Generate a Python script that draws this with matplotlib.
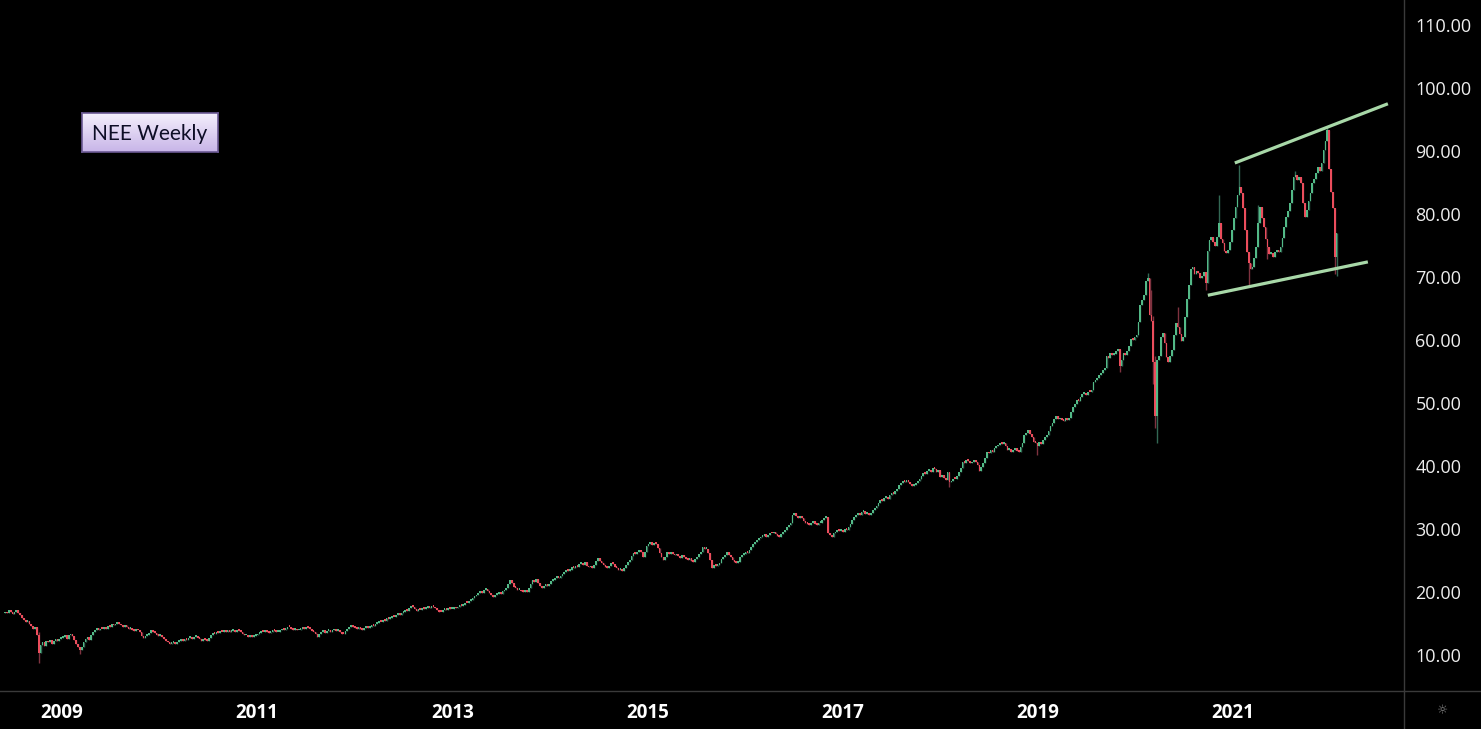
import matplotlib
matplotlib.use("Agg")
import matplotlib.pyplot as plt
import matplotlib.dates as mdates
from matplotlib.colors import LinearSegmentedColormap
from matplotlib.lines import Line2D
import numpy as np
import pandas as pd

# NEE weekly candles (split-adjusted prices)
first_week = '2008-06-02'
first_open = 16.6

# weekly closes, chunked roughly by calendar year
closes_2008 = [16.9, 16.6, 17.1, 16.8, 16.5, 16.9, 17.2, 16.7, 16.3, 15.9,
               15.6, 15.3, 15.4, 14.9, 14.6, 14.1, 14.4, 13.2, 10.4, 11.6,
               12.1, 11.5, 12.3, 12.0, 12.4, 11.8, 12.2, 12.6, 12.3, 12.5,
               12.7]
closes_2009 = [12.9, 13.2, 12.6, 13.1, 13.4, 13.0, 12.4, 11.8, 11.2, 10.8,
               11.3, 12.1, 12.5, 12.9, 12.4, 13.1, 13.7, 14.0, 14.3, 13.9,
               14.2, 14.1, 14.5, 14.2, 14.6, 14.4, 14.9, 14.7, 15.0, 15.3,
               14.9, 14.7, 14.5, 14.8, 14.4, 14.1, 14.3, 14.0, 13.8, 14.0,
               13.9, 13.6, 13.0, 12.7, 13.0, 13.2, 13.5, 13.9, 13.7, 13.5,
               13.2, 13.0]
closes_2010 = [13.1, 12.8, 12.5, 12.3, 12.0, 11.8, 11.9, 12.0, 11.8, 12.1,
               12.2, 12.4, 12.2, 12.5, 12.4, 12.7, 12.9, 12.6, 12.8, 13.0,
               12.7, 12.5, 12.3, 12.6, 12.4, 12.2, 12.7, 13.2, 13.4, 13.3,
               13.6, 13.5, 13.7, 13.6, 13.8, 13.6, 13.9, 13.7, 13.8, 14.0,
               13.7, 13.9, 13.8, 13.6, 13.3, 13.1, 13.2, 12.9, 13.1, 12.9,
               13.0, 13.1]
closes_2011 = [13.3, 13.5, 13.7, 13.6, 13.8, 13.7, 13.5, 13.6, 13.9, 13.8,
               13.6, 13.7, 13.9, 14.1, 14.0, 14.2, 14.5, 14.4, 14.2, 14.0,
               14.1, 13.9, 14.0, 14.2, 14.3, 14.2, 14.4, 14.3, 14.1, 13.8,
               13.7, 13.3, 12.8, 13.3, 13.6, 13.9, 13.5, 13.8, 14.0, 13.7,
               13.9, 14.1, 13.8, 14.0, 13.6, 13.4, 13.3, 13.8, 14.2, 14.4,
               14.6, 14.5]
closes_2012 = [14.3, 14.1, 14.4, 14.2, 14.0, 14.3, 14.5, 14.3, 14.4, 14.7,
               14.6, 14.9, 15.1, 15.3, 15.2, 15.5, 15.4, 15.8, 15.7, 15.9,
               16.1, 16.0, 16.3, 16.5, 16.4, 16.7, 16.9, 17.1, 17.0, 17.4,
               17.8, 17.6, 17.3, 17.0, 17.2, 17.1, 17.4, 17.3, 17.5, 17.7,
               17.5, 17.8, 17.6, 17.4, 17.1, 16.9, 16.8, 17.1, 17.3, 17.2,
               17.4, 17.3]
closes_2013 = [17.3, 17.6, 17.4, 17.7, 17.9, 17.8, 18.0, 18.3, 18.2, 18.6,
               18.8, 19.0, 19.3, 19.5, 19.8, 20.1, 19.9, 20.3, 20.5, 20.2,
               19.8, 19.5, 19.2, 19.5, 19.7, 19.9, 19.7, 20.1, 20.4, 20.6,
               21.3, 21.9, 21.5, 20.8, 20.6, 20.3, 20.4, 20.1, 20.0, 20.2,
               20.0, 20.6, 21.2, 21.9, 21.6, 22.0, 21.4, 20.9, 20.7, 20.9,
               21.2, 21.0]
closes_2014 = [21.3, 21.7, 21.9, 22.2, 22.4, 22.3, 22.6, 22.9, 23.2, 23.5,
               23.3, 23.5, 23.9, 23.8, 24.1, 24.0, 24.4, 24.6, 24.3, 24.8,
               24.2, 23.9, 24.0, 23.8, 24.3, 24.9, 25.4, 25.0, 24.6, 24.3,
               24.0, 23.8, 24.2, 24.6, 24.4, 24.0, 23.8, 23.5, 23.6, 23.4,
               23.8, 24.3, 24.8, 25.1, 25.7, 26.2, 26.0, 26.3, 26.6, 26.4,
               25.5, 26.4]
closes_2015 = [27.3, 27.6, 27.9, 27.5, 27.8, 27.6, 27.0, 26.2, 25.6, 25.1,
               25.6, 26.4, 26.1, 26.4, 26.0, 25.8, 26.1, 25.7, 25.4, 25.8,
               25.6, 25.3, 25.1, 25.4, 25.0, 24.8, 25.2, 25.6, 26.0, 26.3,
               27.1, 26.8, 26.9, 26.2, 25.1, 23.8, 24.3, 24.1, 24.3, 24.6,
               25.2, 25.6, 25.9, 26.3, 25.8, 25.5, 25.1, 24.8, 24.6, 24.7,
               25.6, 25.9]
closes_2016 = [26.1, 26.4, 26.2, 26.6, 27.1, 27.6, 27.9, 28.2, 28.5, 28.7,
               28.9, 29.2, 28.8, 29.1, 29.4, 29.3, 29.6, 29.2, 28.9, 28.7,
               29.2, 29.6, 29.9, 30.3, 30.6, 31.0, 32.3, 32.5, 32.1, 31.8,
               32.1, 31.7, 31.3, 31.0, 30.8, 30.6, 30.9, 31.2, 30.8, 30.6,
               30.9, 31.0, 31.4, 31.7, 31.9, 29.4, 29.0, 28.8, 29.3, 29.6,
               29.8, 29.7]
closes_2017 = [29.9, 29.6, 30.0, 29.8, 30.3, 30.8, 31.4, 31.9, 32.2, 32.5,
               32.3, 32.7, 32.8, 32.4, 32.5, 32.2, 32.6, 33.0, 33.4, 33.7,
               34.1, 34.6, 34.4, 34.9, 35.1, 34.8, 35.4, 35.7, 35.5, 36.0,
               36.4, 37.0, 37.3, 37.6, 37.5, 37.8, 37.4, 37.2, 36.8, 37.0,
               37.3, 37.6, 38.0, 38.4, 38.9, 38.7, 39.2, 39.4, 39.1, 39.7,
               39.5, 39.0]
closes_2018 = [39.4, 38.2, 38.6, 38.1, 37.8, 39.1, 37.4, 37.7, 38.0, 37.9,
               38.4, 39.0, 39.7, 40.7, 40.5, 41.0, 40.8, 40.4, 40.7, 41.0,
               40.6, 40.2, 39.2, 39.8, 40.4, 41.3, 42.2, 42.0, 42.5, 42.3,
               42.8, 43.1, 43.4, 43.7, 43.5, 43.7, 43.1, 42.5, 42.7, 42.2,
               42.5, 42.8, 42.4, 42.2, 43.0, 43.7, 45.0, 45.3, 45.7, 45.1,
               44.6, 43.8]
closes_2019 = [43.6, 43.1, 43.8, 43.5, 44.1, 44.6, 45.0, 45.6, 46.3, 46.8,
               47.5, 47.9, 47.4, 47.6, 47.3, 47.1, 47.6, 47.3, 47.7, 48.6,
               49.4, 49.9, 50.5, 50.3, 51.0, 51.4, 51.6, 51.2, 51.8, 51.7,
               52.1, 53.4, 53.7, 54.0, 54.5, 54.8, 55.2, 55.6, 57.5, 57.2,
               58.0, 57.6, 57.8, 58.2, 58.5, 55.9, 56.8, 58.0, 57.7, 58.3,
               59.1, 60.2, 60.0]
closes_2020 = [60.5, 60.8, 62.9, 65.6, 66.4, 67.2, 69.3, 69.8, 64.0, 63.0,
               56.5, 48.0, 56.8, 57.5, 60.5, 61.1, 59.5, 57.3, 56.5, 57.5,
               58.4, 60.8, 62.7, 62.1, 61.0, 59.8, 60.5, 63.7, 66.5, 68.8,
               71.2, 71.6, 70.4, 70.9, 70.6, 69.8, 70.2, 70.8, 69.0, 74.2,
               75.8, 76.3, 75.6, 75.0, 76.4, 78.6, 76.0, 75.4, 74.2, 73.8,
               74.3, 75.6]
closes_2021 = [77.5, 79.3, 81.1, 83.0, 84.3, 83.3, 81.0, 77.5, 74.0, 72.2,
               71.2, 71.6, 73.0, 74.8, 78.6, 81.1, 79.4, 77.9, 76.0, 74.8,
               73.6, 73.8, 73.2, 73.9, 74.3, 74.0, 74.8, 76.2, 77.9, 79.5,
               80.4, 81.7, 83.8, 85.9, 86.2, 85.4, 85.8, 84.9, 81.7, 79.5,
               80.6, 82.1, 83.4, 84.9, 85.6, 86.5, 87.5, 86.8, 88.1, 90.2,
               91.6, 93.3, 87.2, 83.5, 81.0, 73.2, 77.0]

# weeks whose wicks reach well past the body
wick_highs = {'2008-10-06': 13.6, '2020-02-17': 70.6, '2020-02-24': 69.9,
              '2020-03-02': 68.0, '2020-03-09': 63.8, '2020-03-16': 57.5,
              '2020-06-08': 65.2, '2020-11-09': 83.0, '2021-01-25': 87.8,
              '2021-04-05': 81.5, '2021-08-23': 86.9, '2021-12-20': 93.8}
wick_lows = {'2008-10-06': 8.7, '2009-03-09': 10.1, '2018-02-05': 36.7,
             '2018-12-31': 41.8, '2019-11-04': 55.0, '2020-03-09': 53.0,
             '2020-03-16': 46.0, '2020-03-23': 43.7, '2020-09-21': 68.0,
             '2021-03-01': 68.4, '2021-05-10': 72.8, '2022-01-17': 70.5,
             '2022-01-24': 70.2}

# channel lines drawn on the chart
upper_line_dates = ['2021-01-08', '2022-08-04']
upper_line_prices = [88.1, 97.5]
lower_line_dates = ['2020-09-29', '2022-05-21']
lower_line_prices = [67.1, 72.4]

price_ticks = [10, 20, 30, 40, 50, 60, 70, 80, 90, 100, 110]
year_labels = ['2009', '2011', '2013', '2015', '2017', '2019', '2021']

closes = np.array(closes_2008 + closes_2009 + closes_2010 + closes_2011 + closes_2012
                  + closes_2013 + closes_2014 + closes_2015 + closes_2016 + closes_2017
                  + closes_2018 + closes_2019 + closes_2020 + closes_2021)
opens = np.concatenate([[first_open], closes[:-1]])
weeks = pd.date_range(first_week, periods=len(closes), freq='7D')
highs = np.maximum(opens, closes)
lows = np.minimum(opens, closes)
for d, v in wick_highs.items():
    highs[weeks.get_loc(pd.Timestamp(d))] = v
for d, v in wick_lows.items():
    lows[weeks.get_loc(pd.Timestamp(d))] = v

up = closes >= opens
body_col = np.where(up, '#53b987', '#eb4d5c')
wick_col = np.where(up, '#336854', '#7f323f')

W, H = 1481, 729
fig = plt.figure(figsize=(W / 100, H / 100), dpi=100, facecolor='black')
ax = fig.add_axes([1 / W, 38 / H, 1402 / W, 690 / H], facecolor='black')

x = mdates.date2num(weeks)
ax.vlines(x, lows, highs, colors=wick_col, linewidth=1.0, zorder=2)
# bodies get a minimum visible height like the charting app does
ax.bar(x, np.maximum(np.abs(closes - opens), 0.3), bottom=np.minimum(opens, closes),
       width=6.3, color=body_col, linewidth=0, zorder=3)

ax.plot(mdates.datestr2num(upper_line_dates), upper_line_prices, color='#a8d8a8',
        linewidth=2.3, solid_capstyle='butt', zorder=4)
ax.plot(mdates.datestr2num(lower_line_dates), lower_line_prices, color='#a8d8a8',
        linewidth=2.3, solid_capstyle='butt', zorder=4)

x2009 = mdates.datestr2num('2009-01-01')
ax.set_xlim(x2009 - 228.3, x2009 + 5019.5)
ax.set_ylim(4.29, 113.81)

ax.yaxis.tick_right()
ax.set_yticks(price_ticks)
ax.set_yticklabels([f'{v:.2f}' for v in price_ticks])
ax.tick_params(axis='y', length=0, pad=9, labelcolor='#eeeeee', labelsize=13)
for lab in ax.get_yticklabels():
    lab.set_family('Open Sans')

ax.set_xticks(mdates.datestr2num([y + '-01-01' for y in year_labels]))
ax.set_xticklabels(year_labels)
ax.tick_params(axis='x', length=0, pad=9, labelcolor='white', labelsize=13.5)
for lab in ax.get_xticklabels():
    lab.set_family('Open Sans')
    lab.set_fontweight('bold')

for s in ax.spines.values():
    s.set_visible(False)

# pane separators
fig.add_artist(Line2D([1403.5 / W] * 2, [0, 1], transform=fig.transFigure,
                      color='#3a3a3a', linewidth=1))
fig.add_artist(Line2D([0, 1], [38 / H] * 2, transform=fig.transFigure,
                      color='#3a3a3a', linewidth=1))
fig.text(1443 / W, 1 - 711 / H, '\u263c', color='#8c8c8c', fontsize=9,
         ha='center', va='center')

# label box
bax = fig.add_axes([82 / W, 1 - 152.3 / H, 135.6 / W, 39 / H])
grad = LinearSegmentedColormap.from_list('lav', ['#c8b5e8', '#f4effc'])
bax.imshow(np.linspace(0, 1, 50).reshape(-1, 1), cmap=grad, aspect='auto',
           origin='lower', extent=[0, 1, 0, 1])
bax.set_xticks([])
bax.set_yticks([])
for s in bax.spines.values():
    s.set_color('#6c5a94')
    s.set_linewidth(1.2)
bax.text(0.5, 0.47, 'NEE Weekly', ha='center', va='center', fontsize=15,
         color='#0d0d26', family='Lato')

fig.savefig('out.png', dpi=100, facecolor='black')
